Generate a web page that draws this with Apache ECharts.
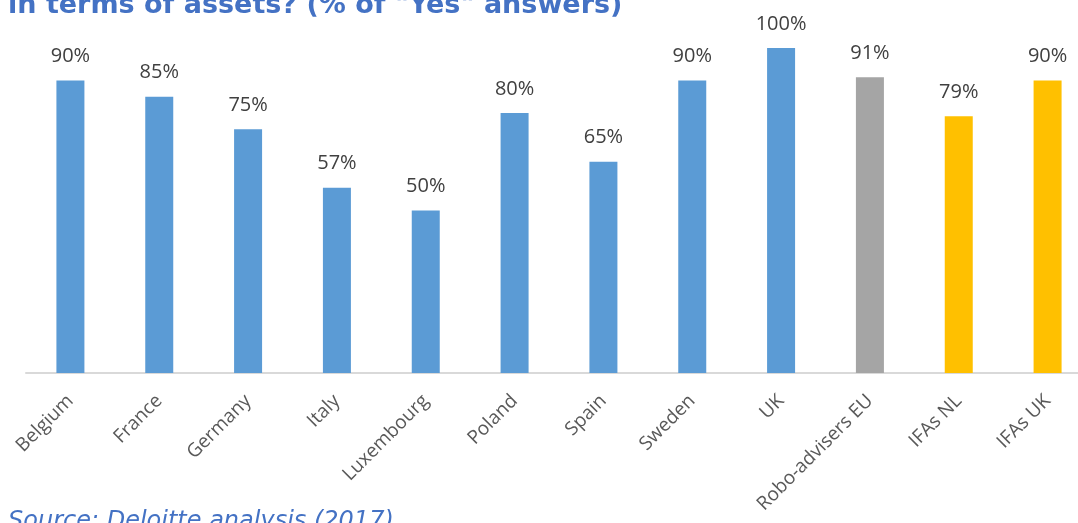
<!DOCTYPE html>
<html>
<head>
<meta charset="utf-8">
<script src="https://cdn.jsdelivr.net/npm/echarts@6/dist/echarts.min.js"></script>
<style>
  html, body { margin: 0; padding: 0; background: #fff; overflow: hidden; width: 1078px; height: 523px; }
  /* canvas is slightly wider than the page so the axis runs off the right edge */
  #chart { width: 1092px; height: 523px; }
</style>
</head>
<body>
<div id="chart"></div>
<script>
// Share of "Yes" answers per market / respondent group
const categories = ['Belgium', 'France', 'Germany', 'Italy', 'Luxembourg', 'Poland', 'Spain', 'Sweden', 'UK', 'Robo-advisers EU', 'IFAs NL', 'IFAs UK'];
const yesShare = [90, 85, 75, 57, 50, 80, 65, 90, 100, 91, 79, 90];
const groupOf = ['country', 'country', 'country', 'country', 'country', 'country', 'country', 'country', 'country', 'robo', 'ifa', 'ifa'];
const groupColors = { country: '#5B9BD5', robo: '#A5A5A5', ifa: '#FFC000' };

const chart = echarts.init(document.getElementById('chart'));
chart.setOption({
  animation: false,
  title: [
    {
      text: 'in terms of assets? (% of "Yes" answers)',
      left: 3, top: -13,
      textStyle: { fontFamily: 'DejaVu Sans', fontWeight: 'bold', fontSize: 27, color: '#4472C4' }
    },
    {
      text: 'Source: Deloitte analysis (2017)',
      left: 3, top: 505,
      textStyle: { fontFamily: 'DejaVu Sans', fontStyle: 'italic', fontWeight: 'normal', fontSize: 24, color: '#4472C4' }
    }
  ],
  grid: { left: 26, right: 0, top: 48, bottom: 150, containLabel: false },
  xAxis: {
    type: 'category',
    data: categories,
    axisLine: { lineStyle: { color: '#D9D9D9', width: 2 } },
    axisTick: { show: false },
    axisLabel: {
      rotate: 45, interval: 0, margin: 25,
      fontFamily: 'Open Sans', fontSize: 19, color: '#595959'
    }
  },
  yAxis: {
    type: 'value', min: 0, max: 100,
    show: false,
    splitLine: { show: false }
  },
  series: [{
    type: 'bar',
    barWidth: 28,
    data: yesShare.map((v, i) => ({ value: v, itemStyle: { color: groupColors[groupOf[i]] } })),
    label: {
      show: true, position: 'top', distance: 14,
      formatter: p => p.value + '%',
      fontFamily: 'Open Sans', fontSize: 20, color: '#404040'
    }
  }]
});
</script>
</body>
</html>
